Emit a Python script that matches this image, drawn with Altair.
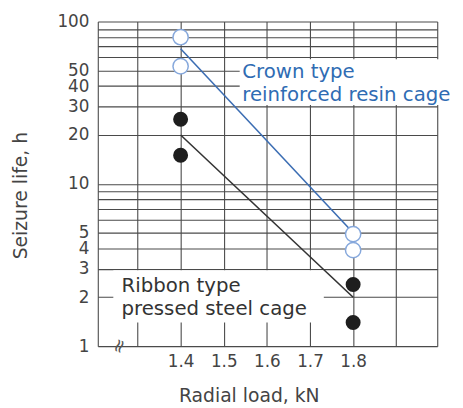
import altair as alt
import pandas as pd

# ---------------- data ----------------
load_kn = [1.4, 1.4, 1.8, 1.8]
crown_life = [80, 53, 4.9, 3.9]
ribbon_life = [25, 15, 2.4, 1.4]

fit_load = [1.4, 1.8]
crown_fit = [68, 5.0]
ribbon_fit = [20, 2.0]

x_grid = [1.208, 1.3, 1.4, 1.5, 1.6, 1.7, 1.8, 1.9, 1.995]
y_grid = [1, 2, 3, 4, 5, 6, 7, 8, 9, 10, 20, 30, 40, 50, 60, 70, 80, 90, 100]
y_labeled = [1, 2, 3, 4, 5, 10, 20, 30, 40, 50, 100]

labels = ["Crown type\nreinforced resin cage", "Ribbon type\npressed steel cage"]
label_load = [1.543, 1.263]
label_life = [56.0, 2.68]
label_color = ["#2f6cb3", "#333333"]

box_load = [1.537, 1.244]
box_load2 = [2.06, 1.732]
box_life = [30.6, 1.40]
box_life2 = [58.5, 2.93]

# ---------------- styling ----------------
FONT = "DejaVu Sans"
GRID = "#4a4a4a"
TXT = "#444444"

xs = alt.Scale(domain=[1.208, 1.995], nice=False, zero=False)
ys = alt.Scale(type="log", domain=[1, 100], nice=False)

x_axis = alt.Axis(
    values=x_grid, format=".1f",
    labelExpr="datum.value > 1.35 && datum.value < 1.85 ? datum.label : ''",
    title="Radial load, kN", grid=True, gridColor=GRID, gridWidth=1.1, gridOpacity=1,
    domain=False, ticks=False, tickSize=0, labelPadding=8,
    labelFont=FONT, labelFontSize=17, labelColor=TXT, labelOverlap=False, labelFlush=False,
    titleFont=FONT, titleFontSize=19, titleFontWeight="normal", titleColor=TXT,
    titleX=153, titleY=56, titleBaseline="alphabetic", titleAlign="center",
)
y_axis = alt.Axis(
    values=y_grid, format="d",
    labelExpr="indexof([1,2,3,4,5,10,20,30,40,50,100], datum.value) >= 0 ? datum.label : ''",
    title="Seizure life, h", grid=True, gridColor=GRID, gridWidth=1.1, gridOpacity=1,
    domain=False, ticks=False, tickSize=0, labelPadding=9,
    labelFont=FONT, labelFontSize=17, labelColor=TXT, labelOverlap=False, labelFlush=False,
    titleFont=FONT, titleFontSize=19, titleFontWeight="normal", titleColor=TXT,
    titleX=-72, titleY=176, titleBaseline="alphabetic", titleAlign="center", titleAngle=270,
)

X = alt.X("load:Q", scale=xs, axis=x_axis)
Y = alt.Y("life:Q", scale=ys, axis=y_axis)

crown_pts = pd.DataFrame({"load": load_kn, "life": crown_life})
ribbon_pts = pd.DataFrame({"load": load_kn, "life": ribbon_life})
crown_ln = pd.DataFrame({"load": fit_load, "life": crown_fit})
ribbon_ln = pd.DataFrame({"load": fit_load, "life": ribbon_fit})
boxes = pd.DataFrame({"load": box_load, "load2": box_load2, "life": box_life, "life2": box_life2})
ann = pd.DataFrame({"load": label_load, "life": label_life, "text": labels, "color": label_color})
brk = pd.DataFrame({"load": [1.258], "life": [1.0], "text": ["≈"]})

box_layer = alt.Chart(boxes).mark_rect(fill="white", stroke=None, opacity=1).encode(
    x=X, x2="load2:Q", y=Y, y2="life2:Q")

crown_line = alt.Chart(crown_ln).mark_line(color="#3b6db3", strokeWidth=1.6).encode(x=X, y=Y)
ribbon_line = alt.Chart(ribbon_ln).mark_line(color="#333333", strokeWidth=1.6).encode(x=X, y=Y)

crown_mark = alt.Chart(crown_pts).mark_circle(
    fill="white", stroke="#86a8dc", strokeWidth=1.5, size=240, opacity=1
).encode(x=X, y=Y)
ribbon_mark = alt.Chart(ribbon_pts).mark_circle(
    color="#1e1e1e", size=230, opacity=1
).encode(x=X, y=Y)

ann_layer = alt.Chart(ann).mark_text(
    align="left", baseline="top", font=FONT, fontSize=20, lineBreak="\n", lineHeight=23
).encode(x=X, y=Y, text="text:N", color=alt.Color("color:N", scale=None))

brk_layer = alt.Chart(brk).mark_text(
    font=FONT, fontSize=19, angle=110, color="#555555", baseline="middle", align="center"
).encode(x=X, y=Y, text="text:N")

chart = alt.layer(
    box_layer, crown_line, ribbon_line, crown_mark, ribbon_mark, ann_layer, brk_layer
).properties(
    width=344, height=329,
    autosize=alt.AutoSizeParams(type="none"),
    padding={"left": 91, "top": 11, "right": 18, "bottom": 59},
    background="white",
).configure_view(stroke=None)

chart.save("out.html", embed_options={"renderer": "svg", "actions": False})
